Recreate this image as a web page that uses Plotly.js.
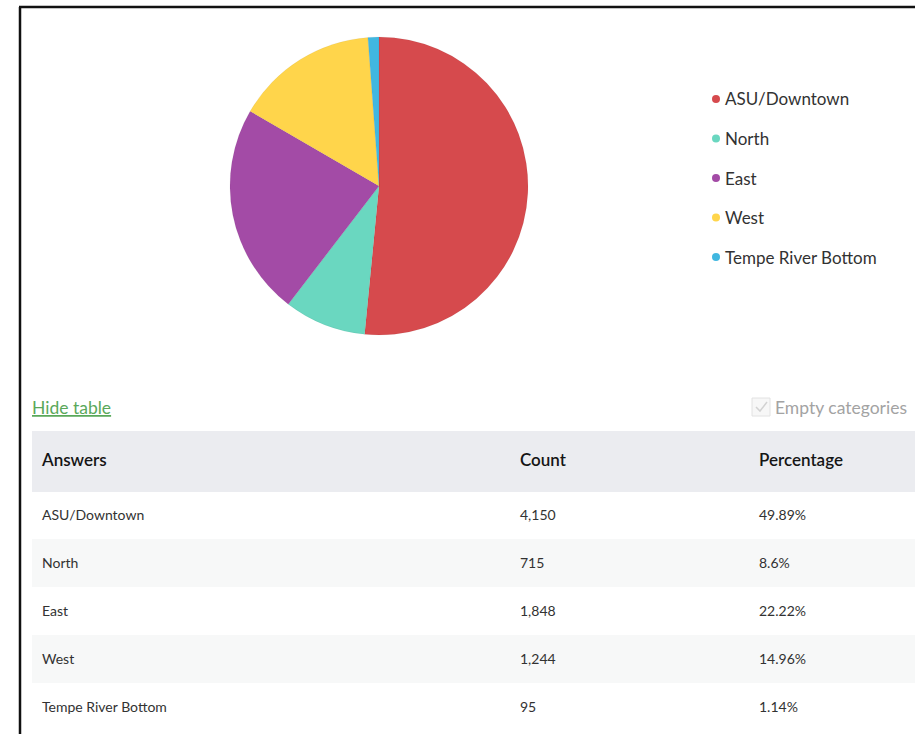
<!DOCTYPE html>
<html>
<head>
<meta charset="utf-8">
<script src="https://cdn.plot.ly/plotly-3.0.1.min.js"></script>
<style>
html,body{margin:0;padding:0;background:#fff;overflow:hidden;}
#chart{width:915px;height:734px;}
</style>
</head>
<body>
<div id="chart"></div>
<script>
// ---- data ----
var categories = ["ASU/Downtown", "North", "East", "West", "Tempe River Bottom"];
var counts = [4150, 715, 1848, 1244, 95];
var countLabels = ["4,150", "715", "1,848", "1,244", "95"];
var percentLabels = ["49.89%", "8.6%", "22.22%", "14.96%", "1.14%"];
var headers = ["Answers", "Count", "Percentage"];
var sliceColors = ["#d64a4d", "#6ad7c0", "#a34ba6", "#ffd54b", "#40b7e0"];

// ---- helpers (pixel -> paper) ----
var W = 915, H = 734;
function px(x){ return x / W; }
function py(y){ return 1 - y / H; }

var FONT = "Lato, 'Open Sans', sans-serif";
var CLEAR = "rgba(0,0,0,0)";

var pie = {
  type: "pie",
  labels: categories,
  values: counts,
  sort: false,
  direction: "clockwise",
  rotation: 0,
  textinfo: "none",
  marker: {colors: sliceColors, line: {color: "rgba(0,0,0,0.08)", width: 0.6}},
  domain: {x: [px(230), px(528)], y: [py(335), py(37)]},
  showlegend: false,
  hoverinfo: "label+value+percent"
};

var rowFills = categories.map(function(_, i){ return i % 2 === 0 ? "#ffffff" : "#f7f8f8"; });
var blankCol = categories.map(function(){ return ""; });

// table backgrounds (rows and header band)
var tableBg = {
  type: "table",
  domain: {x: [px(32), 1], y: [0, py(431)]},
  columnwidth: [478, 239, 166],
  header: {
    values: headers.map(function(){ return ""; }),
    height: 60,
    fill: {color: "#ebecf0"},
    line: {color: "#ebecf0", width: 1}
  },
  cells: {
    values: [blankCol, blankCol, blankCol],
    height: 48,
    fill: {color: [rowFills, rowFills, rowFills]},
    line: {color: [rowFills, rowFills, rowFills], width: 1}
  }
};

// table texts (offset so each text sits in the middle of its row)
var tableText = {
  type: "table",
  domain: {x: [px(34), 1], y: [0, py(445)]},
  columnwidth: [478, 239, 164],
  header: {
    values: headers,
    align: "left",
    height: 56,
    fill: {color: CLEAR},
    line: {color: CLEAR, width: 0},
    font: {family: FONT, size: 17, color: "#151515", weight: 600}
  },
  cells: {
    values: [categories, countLabels, percentLabels],
    align: "left",
    height: 48,
    fill: {color: CLEAR},
    line: {color: CLEAR, width: 0},
    font: {family: FONT, size: 14, color: "#323232"}
  }
};

// legend built from categories
var annotations = [];
var shapes = [];
var legendTop = 99, legendStep = 39.5;
categories.forEach(function(c, i){
  var y = legendTop + i * legendStep;
  shapes.push({
    type: "circle", xref: "paper", yref: "paper",
    xsizemode: "pixel", ysizemode: "pixel",
    xanchor: px(716), yanchor: py(y),
    x0: -4, x1: 4, y0: -4, y1: 4,
    fillcolor: sliceColors[i], line: {width: 0}
  });
  annotations.push({
    xref: "paper", yref: "paper", x: px(723), y: py(y),
    xanchor: "left", yanchor: "middle", showarrow: false,
    text: c, font: {family: FONT, size: 17, color: "#323232"}
  });
});

// "Hide table" link
annotations.push({
  xref: "paper", yref: "paper", x: px(30), y: py(407),
  xanchor: "left", yanchor: "middle", showarrow: false,
  text: "<u>Hide table</u>", font: {family: FONT, size: 17.5, color: "#5aa85a"}
});
// "Empty categories" checkbox label
annotations.push({
  xref: "paper", yref: "paper", x: px(773), y: py(407),
  xanchor: "left", yanchor: "middle", showarrow: false,
  text: "Empty categories", font: {family: FONT, size: 17.5, color: "#a3a3a3"}
});
// checkbox
shapes.push({
  type: "rect", xref: "paper", yref: "paper",
  x0: px(752), x1: px(770), y0: py(416), y1: py(398),
  fillcolor: "#f7f7f7", line: {color: "#e2e2e2", width: 1}
});
shapes.push({
  type: "path", xref: "paper", yref: "paper",
  path: "M " + px(756) + " " + py(407) + " L " + px(760) + " " + py(411) + " L " + px(767) + " " + py(402),
  line: {color: "#d2d2d2", width: 1.5}
});
// frame
shapes.push({type: "line", xref: "paper", yref: "paper", x0: px(20), x1: px(20), y0: py(7), y1: 0, line: {color: "#111", width: 2.5}});
shapes.push({type: "line", xref: "paper", yref: "paper", x0: px(19), x1: 1, y0: py(7), y1: py(7), line: {color: "#111", width: 2.5}});

var layout = {
  width: W, height: H,
  margin: {l: 0, r: 0, t: 0, b: 0},
  paper_bgcolor: "#ffffff",
  showlegend: false,
  annotations: annotations,
  shapes: shapes,
  font: {family: FONT}
};

Plotly.newPlot("chart", [pie, tableBg, tableText], layout, {displayModeBar: false, staticPlot: true});
</script>
</body>
</html>
